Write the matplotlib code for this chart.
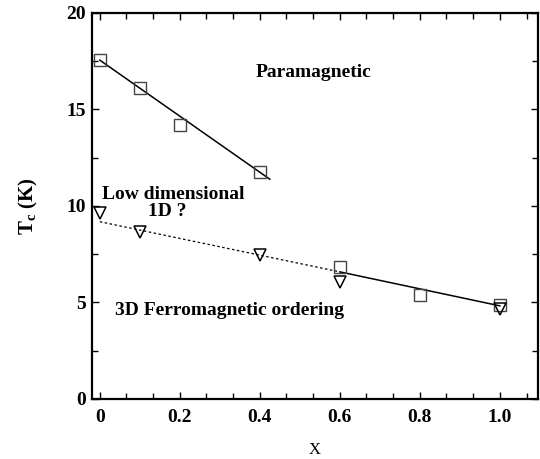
import numpy as np
import matplotlib.pyplot as plt
from matplotlib.ticker import MultipleLocator

plt.rcParams["font.family"] = ["Liberation Serif", "DejaVu Serif"]
plt.rcParams["mathtext.fontset"] = "custom"
plt.rcParams["mathtext.bf"] = "Liberation Serif:bold"
plt.rcParams["mathtext.rm"] = "Liberation Serif:bold"

# squares
x_sq = [0.0, 0.1, 0.2, 0.4, 0.6, 0.8, 1.0]
tc_sq = [17.55, 16.1, 14.2, 11.75, 6.82, 5.39, 4.87]

# down triangles
x_tri = [0.0, 0.1, 0.4, 0.6, 1.0]
tc_tri = [9.65, 8.62, 7.44, 6.03, 4.65]

# fitted lines (endpoints)
fit1_x = [0.0, 0.425]
fit1_y = [17.55, 11.38]
fit2_dot_x = [0.0, 0.6]
fit2_dot_y = [9.18, 6.58]
fit2_sol_x = [0.6, 1.0]
fit2_sol_y = [6.58, 4.82]

fig = plt.figure(figsize=(5.4, 4.59), dpi=100)
ax = fig.add_axes([0.170, 0.131, 0.826, 0.841])

ax.plot(fit1_x, fit1_y, color="black", lw=1.1)
ax.plot(fit2_dot_x, fit2_dot_y, color="black", lw=0.9, linestyle=(0, (2, 2)))
ax.plot(fit2_sol_x, fit2_sol_y, color="black", lw=1.1)

ax.plot(x_sq, tc_sq, linestyle="none", marker="s", markersize=9,
        markerfacecolor="none", markeredgecolor="#444444", markeredgewidth=1.0)
ax.plot(x_tri, tc_tri, linestyle="none", marker="v", markersize=9,
        markerfacecolor="none", markeredgecolor="black", markeredgewidth=1.1)

ax.set_xlim(-0.02, 1.095)
ax.set_ylim(0, 20)

ax.xaxis.set_major_locator(MultipleLocator(0.2))
ax.xaxis.set_minor_locator(MultipleLocator(0.2 / 3))
ax.yaxis.set_major_locator(MultipleLocator(5))
ax.yaxis.set_minor_locator(MultipleLocator(2.5))
ax.set_xticks([0, 0.2, 0.4, 0.6, 0.8, 1.0])
ax.set_xticklabels(["0", "0.2", "0.4", "0.6", "0.8", "1.0"])

ax.tick_params(which="both", direction="in", top=True, right=True,
               labelsize=14, width=1.0)
ax.tick_params(which="major", length=5)
ax.tick_params(axis="x", which="major", pad=7)
ax.tick_params(axis="y", which="major", pad=4)
ax.tick_params(which="minor", length=4)
for lab in ax.get_xticklabels() + ax.get_yticklabels():
    lab.set_fontweight("bold")
for sp in ax.spines.values():
    sp.set_linewidth(1.6)

ax.set_xlabel("X", fontsize=12, labelpad=12)
ax.set_ylabel(r"T$_\mathbf{c}$ (K)", fontsize=15, fontweight="bold", labelpad=19)

ax.text(0.535, 16.9, "Paramagnetic", fontsize=14, fontweight="bold",
        ha="center", va="center")
ax.text(0.005, 10.6, "Low dimensional", fontsize=14, fontweight="bold",
        ha="left", va="center")
ax.text(0.168, 9.7, "1D ?", fontsize=14, fontweight="bold",
        ha="center", va="center")
ax.text(0.325, 4.6, "3D Ferromagnetic ordering", fontsize=14, fontweight="bold",
        ha="center", va="center")

fig.savefig("out.png", dpi=100)
